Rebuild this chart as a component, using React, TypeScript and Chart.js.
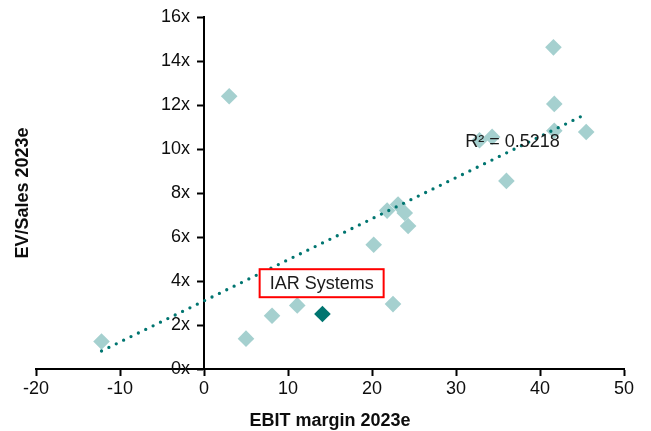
import React, { useEffect, useRef } from "react";
import { Chart, registerables } from "chart.js";

Chart.register(...registerables);

// Peer companies: EBIT margin 2023e (%) and EV/Sales 2023e (x)
const peerMargin = [-12.2, 3.0, 5.0, 8.1, 11.1, 20.2, 21.8, 22.5, 23.1, 23.9, 24.3, 32.8, 34.3, 36.0, 41.6, 41.7, 41.7, 45.5];
const peerEvSales = [1.25, 12.4, 1.38, 2.42, 2.89, 5.65, 7.2, 2.95, 7.48, 7.09, 6.5, 10.4, 10.55, 8.55, 14.62, 12.05, 10.83, 10.77];

// IAR Systems
const iarName = "IAR Systems";
const iarMargin = [14.1];
const iarEvSales = [2.5];

const r2Label = "R² = 0.5218";
const xTitle = "EBIT margin 2023e";
const yTitle = "EV/Sales 2023e";
const xTicks = [-20, -10, 0, 10, 20, 30, 40, 50];
const yTicks = [0, 2, 4, 6, 8, 10, 12, 14, 16];

const LIGHT = "#A5D0CF";
const DARK = "#007570";
const TEXT = "#0d0d0d";
const FONT = "'Liberation Sans', Arial, sans-serif";

function linearFit(xs: number[], ys: number[]) {
  const n = xs.length;
  const mx = xs.reduce((a, b) => a + b, 0) / n;
  const my = ys.reduce((a, b) => a + b, 0) / n;
  let sxy = 0, sxx = 0;
  for (let i = 0; i < n; i++) {
    sxy += (xs[i] - mx) * (ys[i] - my);
    sxx += (xs[i] - mx) * (xs[i] - mx);
  }
  const b = sxy / sxx;
  return { a: my - b * mx, b };
}

export default function App() {
  const ref = useRef<HTMLCanvasElement | null>(null);

  useEffect(() => {
    if (!ref.current) return;
    const fit = linearFit(peerMargin, peerEvSales);
    const minX = Math.min(...peerMargin);
    const maxX = Math.max(...peerMargin);

    const labelPlugin = {
      id: "labels",
      afterDatasetsDraw(chart: any) {
        const { ctx, scales } = chart;
        const xs = scales.x, ys = scales.y;
        ctx.save();
        // R² text
        ctx.font = `18px ${FONT}`;
        ctx.fillStyle = "#1a1a1a";
        ctx.textAlign = "left";
        ctx.textBaseline = "middle";
        ctx.fillText(r2Label, xs.getPixelForValue(31.1), ys.getPixelForValue(10.3));
        // IAR label box
        const cx = xs.getPixelForValue(iarMargin[0]) - 0.8;
        const cy = ys.getPixelForValue(iarEvSales[0] + 1.4);
        const w = 124, h = 28;
        ctx.fillStyle = "#fff";
        ctx.fillRect(cx - w / 2, cy - h / 2, w, h);
        ctx.strokeStyle = "#FF0000";
        ctx.lineWidth = 2;
        ctx.strokeRect(cx - w / 2, cy - h / 2, w, h);
        ctx.fillStyle = "#1a1a1a";
        ctx.textAlign = "center";
        ctx.fillText(iarName, cx, cy + 1);
        ctx.restore();
      },
      afterDraw(chart: any) {
        const { ctx, chartArea, scales } = chart;
        const xs = scales.x, ys = scales.y;
        ctx.save();
        // y tick labels, left of the y axis (which sits at x = 0)
        ctx.font = `18px ${FONT}`;
        ctx.fillStyle = TEXT;
        ctx.textAlign = "right";
        ctx.textBaseline = "middle";
        const axisX = xs.getPixelForValue(0);
        ys.ticks.forEach((t: any) => {
          ctx.fillText(t.value + "x", axisX - 14, ys.getPixelForValue(t.value));
        });
        // axis titles
        ctx.font = `bold 18px ${FONT}`;
        ctx.textAlign = "center";
        ctx.fillText(xTitle, (chartArea.left + chartArea.right) / 2, 421);
        ctx.translate(23, (chartArea.top + chartArea.bottom) / 2);
        ctx.rotate(-Math.PI / 2);
        ctx.fillText(yTitle, 0, 0);
        ctx.restore();
      },
    };

    const tickFont = { family: FONT, size: 18 };

    const chart = new Chart(ref.current, {
      type: "scatter",
      data: {
        datasets: [
          {
            type: "line",
            label: "Trend",
            data: [
              { x: minX, y: fit.a + fit.b * minX },
              { x: maxX, y: fit.a + fit.b * maxX },
            ],
            borderColor: DARK,
            borderWidth: 3.3,
            borderDash: [0, 8.2],
            borderCapStyle: "round",
            pointRadius: 0,
            fill: false,
            order: 0,
          } as any,
          {
            label: iarName,
            data: iarMargin.map((x, i) => ({ x, y: iarEvSales[i] })),
            pointStyle: "rectRot",
            pointRadius: 8.3,
            backgroundColor: DARK,
            borderWidth: 0,
            order: 1,
          },
          {
            label: "Peers",
            data: peerMargin.map((x, i) => ({ x, y: peerEvSales[i] })),
            pointStyle: "rectRot",
            pointRadius: 8.3,
            backgroundColor: LIGHT,
            borderWidth: 0,
            order: 2,
          },
        ],
      },
      options: {
        responsive: false,
        animation: false,
        devicePixelRatio: 1,
        layout: { padding: { left: 36, right: 27, top: 17, bottom: 62 } },
        plugins: { legend: { display: false }, tooltip: { enabled: false } },
        scales: {
          x: {
            type: "linear",
            position: { y: 0 } as any,
            min: -20,
            max: 50,
            afterBuildTicks: (s: any) => { s.ticks = xTicks.map((v) => ({ value: v })); },
            ticks: { font: tickFont, color: TEXT, padding: 3 },
            grid: { drawOnChartArea: false, drawTicks: true, tickLength: 6, tickWidth: 2, tickColor: "#000" },
            border: { display: true, color: "#000", width: 2 },
            title: { display: false },
          },
          y: {
            type: "linear",
            position: { x: 0 } as any,
            min: 0,
            max: 16,
            afterBuildTicks: (s: any) => { s.ticks = yTicks.map((v) => ({ value: v })); },
            ticks: { display: false },
            grid: { drawOnChartArea: false, drawTicks: true, tickLength: 6, tickWidth: 2, tickColor: "#000" },
            border: { display: true, color: "#000", width: 2 },
            title: { display: false },
          },
        },
      },
      plugins: [labelPlugin],
    });
    return () => chart.destroy();
  }, []);

  return (
    <div style={{ position: "fixed", left: 0, top: 0, width: 651, height: 431, background: "#fff" }}>
      <canvas ref={ref} width={651} height={431} style={{ display: "block" }} />
    </div>
  );
}
